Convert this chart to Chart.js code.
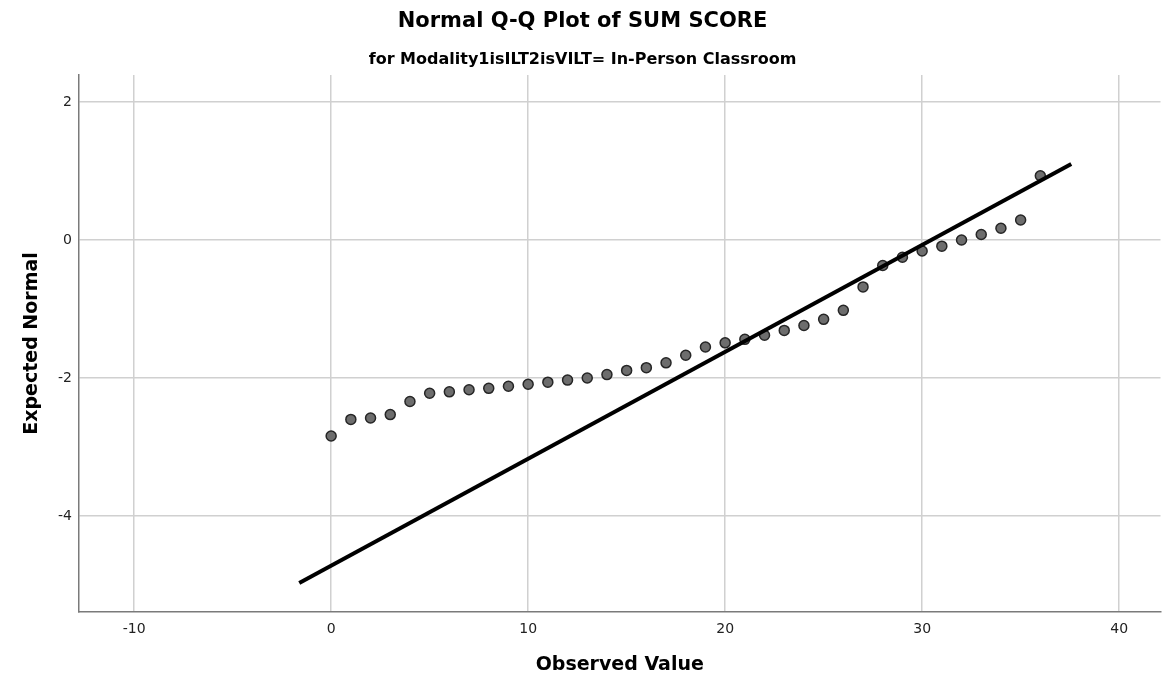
<!DOCTYPE html>
<html>
<head>
<meta charset="utf-8">
<title>Normal Q-Q Plot of SUM SCORE</title>
<script src="https://cdn.jsdelivr.net/npm/chart.js@4"></script>
<style>
	html, body { margin: 0; padding: 0; background: #ffffff; }
	#wrap { width: 1167px; height: 681px; }
</style>
</head>
<body>
<div id="wrap"><canvas id="qq"></canvas></div>
<script>
const observed = [0, 1, 2, 3, 4, 5, 6, 7, 8, 9, 10, 11, 12, 13, 14, 15, 16, 17, 18,
	19, 20, 21, 22, 23, 24, 25, 26, 27, 28, 29, 30, 31, 32, 33, 34, 35, 36];
const expected = [-2.84, -2.60, -2.58, -2.53, -2.34, -2.22, -2.20, -2.17, -2.15, -2.12,
	-2.09, -2.06, -2.03, -2.00, -1.95, -1.89, -1.85, -1.78, -1.67, -1.55,
	-1.49, -1.44, -1.38, -1.31, -1.24, -1.15, -1.02, -0.68, -0.37, -0.25,
	-0.16, -0.09, 0.00, 0.08, 0.17, 0.29, 0.93];

// reference line end points
const lineX = [-1.62, 37.57];
const lineY = [-4.97, 1.10];

// tick labels
const xTicks = [-10, 0, 10, 20, 30, 40];
const yTicks = [-4, -2, 0, 2];

const titleText = 'Normal Q-Q Plot of SUM SCORE';
const subtitleText = 'for Modality1isILT2isVILT= In-Person Classroom';

const config_qq = {
	type: 'scatter',
	data: {
		datasets: [
			{
				label: 'line',
				data: lineX.map((x, i) => ({ x: x, y: lineY[i] })),
				showLine: true,
				borderColor: '#000000',
				borderWidth: 4,
				pointRadius: 0,
				borderCapStyle: 'butt',
			},
			{
				label: 'points',
				data: observed.map((x, i) => ({ x: x, y: expected[i] })),
				pointRadius: 5,
				pointBackgroundColor: '#6d6d6d',
				pointBorderColor: '#262626',
				pointBorderWidth: 1.5,
			},
		],
	},
	options: {
		responsive: true,
		maintainAspectRatio: false,
		animation: false,
		layout: {
			padding: { left: 0, right: 2, top: 0, bottom: 0 },
		},
		plugins: {
			legend: { display: false },
			tooltip: { enabled: false },
			title: {
				display: true,
				text: titleText,
				color: '#000000',
				font: { family: 'DejaVu Sans', size: 21, weight: 'bold' },
				padding: { top: 9, bottom: 8 },
			},
			subtitle: {
				display: true,
				text: subtitleText,
				color: '#000000',
				font: { family: 'DejaVu Sans', size: 16, weight: 'bold' },
				padding: { top: 8.2, bottom: 5.4 },
			},
		},
		scales: {
			x: {
				type: 'linear',
				min: -12.8,
				max: 42.1,
				afterBuildTicks: (scale) => {
					scale.ticks = xTicks.map((v) => ({ value: v }));
				},
				afterFit: (scale) => {
					scale.height = 69;
				},
				grid: {
					color: '#d0d0d0',
					lineWidth: 1.5,
					drawTicks: false,
				},
				border: { color: '#7a7a7a', width: 1.5 },
				ticks: {
					color: '#222222',
					padding: 9,
					font: { family: 'DejaVu Sans', size: 14 },
				},
				title: {
					display: true,
					text: 'Observed Value',
					color: '#000000',
					font: { family: 'DejaVu Sans', size: 19, weight: 'bold' },
					padding: { top: 0, bottom: 4.6 },
				},
			},
			y: {
				type: 'linear',
				min: -5.39,
				max: 2.39,
				afterBuildTicks: (scale) => {
					scale.ticks = yTicks.map((v) => ({ value: v }));
				},
				afterFit: (scale) => {
					scale.width = 79;
				},
				grid: {
					color: '#d0d0d0',
					lineWidth: 1.5,
					drawTicks: false,
				},
				border: { color: '#7a7a7a', width: 1.5 },
				ticks: {
					color: '#222222',
					padding: 7,
					font: { family: 'DejaVu Sans', size: 14 },
				},
				title: {
					display: true,
					text: 'Expected Normal',
					color: '#000000',
					font: { family: 'DejaVu Sans', size: 19, weight: 'bold' },
					padding: { top: 20.6, bottom: 0 },
				},
			},
		},
	},
};

const myQQ = new Chart(document.getElementById('qq'), config_qq);
</script>
</body>
</html>
